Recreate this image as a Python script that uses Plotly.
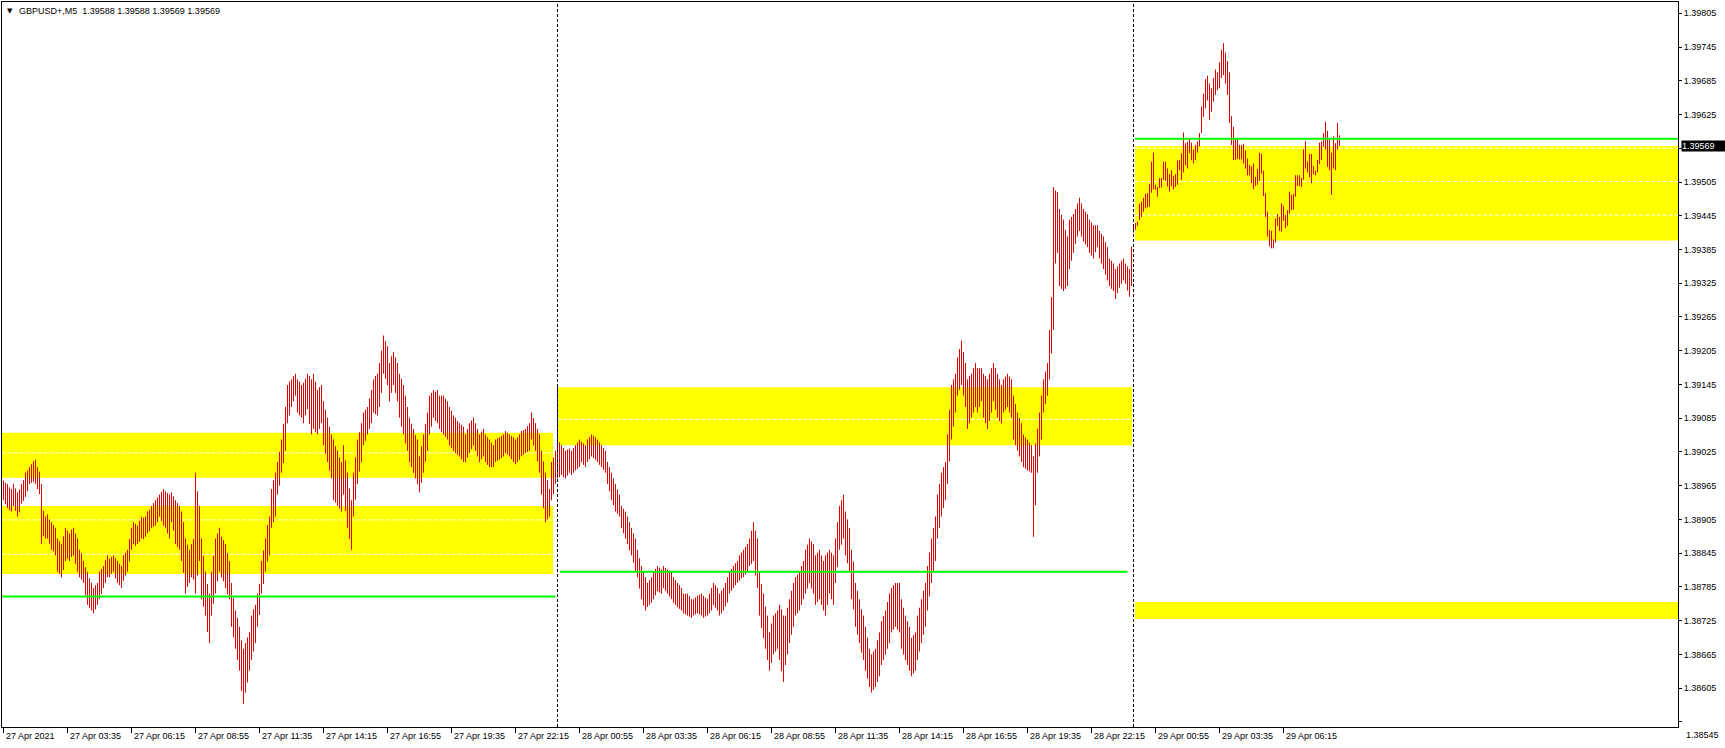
import plotly.graph_objects as go

# ---------------- data ----------------
chart_title = "GBPUSD+,M5  1.39588 1.39588 1.39569 1.39569"
BASE = 1.38
POINT = 0.00001

# M5 bars, 27 Apr 00:55 .. 29 Apr 08:35 ; highs / lows in points above BASE
day1_high = [974, 970, 968, 962, 959, 968, 960, 953, 958, 968,
             975, 988, 992, 998, 1003, 1008, 1011, 998, 990, 968,
             920, 910, 914, 905, 900, 895, 890, 871, 866, 861,
             875, 890, 885, 880, 887, 890, 880, 871, 851, 845,
             831, 820, 812, 800, 792, 783, 788, 792, 812, 817,
             822, 832, 841, 835, 838, 841, 836, 831, 826, 822,
             841, 846, 851, 870, 890, 900, 897, 894, 902, 910,
             908, 910, 919, 922, 929, 934, 939, 944, 949, 954,
             959, 955, 952, 949, 953, 946, 939, 934, 929, 919,
             900, 871, 860, 851, 861, 870, 988, 955, 929, 871,
             840, 812, 790, 773, 812, 840, 871, 880, 890, 874,
             868, 861, 845, 831, 792, 765, 743, 730, 714, 690,
             675, 685, 695, 704, 734, 745, 753, 773, 790, 831,
             850, 871, 895, 910, 959, 975, 988, 1007, 1025, 1047,
             1075, 1105, 1144, 1150, 1154, 1160, 1164, 1154, 1150, 1144,
             1148, 1155, 1164, 1160, 1154, 1164, 1150, 1135, 1140, 1144,
             1115, 1100, 1086, 1070, 1056, 1047, 1035, 1027, 1015, 1007,
             1037, 1010, 988, 960, 939, 988, 1015, 1047, 1060, 1076,
             1095, 1100, 1105, 1120, 1135, 1154, 1160, 1164, 1183, 1205,
             1232, 1222, 1213, 1183, 1195, 1203, 1193, 1183, 1164, 1155,
             1144, 1125, 1105, 1086, 1075, 1066, 1055, 1047, 1017, 1035,
             1056, 1075, 1095, 1125, 1130, 1135, 1132, 1135, 1125, 1125,
             1125, 1120, 1115, 1105, 1098, 1090, 1086, 1080, 1076, 1073,
             1070, 1056, 1066, 1076, 1081, 1086, 1076, 1066, 1056, 1061,
             1066, 1056, 1051, 1047, 1042, 1037, 1047, 1049, 1051, 1053,
             1056, 1062, 1059, 1056, 1053, 1051, 1047, 1051, 1056, 1062,
             1064, 1066, 1071, 1076, 1095, 1085, 1076, 1066, 1056, 1027,
             1008, 988, 975, 959, 1007, 1015, 1027]
day1_low = [939, 932, 925, 921, 919, 929, 920, 910, 918, 933,
            938, 945, 955, 968, 970, 972, 968, 959, 950, 861,
            875, 871, 871, 862, 851, 848, 841, 812, 808, 802,
            815, 831, 835, 831, 838, 841, 826, 812, 802, 798,
            792, 770, 753, 748, 743, 738, 745, 753, 763, 772,
            783, 792, 802, 802, 808, 812, 800, 792, 788, 783,
            796, 805, 812, 830, 851, 861, 858, 861, 865, 871,
            870, 874, 880, 884, 890, 892, 894, 900, 910, 902,
            894, 890, 880, 871, 900, 885, 861, 856, 851, 831,
            810, 773, 785, 792, 802, 798, 773, 805, 831, 763,
            750, 734, 705, 685, 734, 755, 773, 795, 812, 802,
            795, 783, 772, 763, 714, 695, 675, 655, 636, 600,
            577, 597, 615, 636, 655, 670, 685, 714, 735, 773,
            790, 812, 830, 841, 890, 900, 910, 949, 965, 988,
            1005, 1027, 1076, 1090, 1105, 1115, 1125, 1095, 1090, 1086,
            1076, 1090, 1101, 1075, 1056, 1066, 1060, 1056, 1066, 1076,
            1037, 1022, 1007, 992, 978, 939, 935, 929, 924, 919,
            949, 920, 890, 870, 851, 910, 940, 968, 990, 1007,
            1037, 1045, 1056, 1066, 1076, 1095, 1092, 1090, 1105, 1130,
            1164, 1155, 1144, 1115, 1130, 1144, 1130, 1115, 1086, 1070,
            1056, 1040, 1027, 1007, 998, 988, 978, 968, 953, 970,
            988, 1008, 1027, 1056, 1070, 1086, 1080, 1076, 1066, 1060,
            1056, 1052, 1047, 1037, 1032, 1027, 1023, 1020, 1017, 1012,
            1007, 1007, 1015, 1023, 1030, 1037, 1027, 1017, 1007, 1012,
            1017, 1007, 1002, 998, 998, 998, 1007, 1009, 1011, 1014,
            1017, 1023, 1020, 1017, 1012, 1007, 1003, 1007, 1011, 1017,
            1020, 1023, 1025, 1027, 1047, 1037, 1027, 1008, 988, 949,
            925, 900, 905, 910, 939, 950, 968]
day2_high = [1047, 1042, 1037, 1032, 1027, 1029, 1031, 1027, 1032, 1037,
             1042, 1047, 1043, 1040, 1037, 1047, 1051, 1056, 1054, 1051,
             1047, 1042, 1037, 1032, 1027, 1007, 998, 988, 978, 968,
             958, 949, 929, 924, 919, 910, 900, 890, 880, 871,
             851, 836, 822, 812, 802, 792, 797, 802, 812, 817,
             822, 819, 816, 822, 819, 816, 814, 812, 802, 797,
             792, 788, 783, 773, 773, 773, 768, 763, 763, 766,
             769, 771, 773, 769, 766, 763, 773, 783, 792, 788,
             783, 773, 778, 783, 792, 802, 812, 817, 822, 827,
             831, 841, 846, 851, 856, 861, 871, 885, 900, 885,
             871, 812, 790, 773, 750, 734, 704, 720, 734, 738,
             743, 753, 745, 734, 734, 748, 763, 778, 792, 802,
             807, 812, 822, 831, 851, 860, 871, 866, 861, 841,
             846, 851, 841, 831, 841, 846, 851, 846, 841, 871,
             900, 929, 939, 949, 919, 905, 890, 851, 830, 792,
             778, 763, 745, 734, 714, 695, 675, 665, 670, 675,
             690, 704, 724, 733, 743, 758, 773, 783, 788, 792,
             792, 792, 763, 748, 734, 724, 714, 694, 699, 704,
             734, 748, 763, 778, 792, 822, 846, 871, 890, 910,
             949, 968, 988, 998, 1007, 1056, 1100, 1144, 1154, 1164,
             1193, 1208, 1223, 1203, 1183, 1154, 1160, 1164, 1174, 1183,
             1174, 1174, 1174, 1164, 1160, 1154, 1164, 1174, 1183, 1174,
             1164, 1154, 1144, 1154, 1159, 1164, 1159, 1154, 1125, 1110,
             1095, 1085, 1076, 1056, 1051, 1047, 1042, 1037, 1017, 1040,
             1066, 1095, 1125, 1154, 1168, 1183, 1242, 1300, 1496, 1490,
             1487, 1457, 1447, 1438, 1420, 1408, 1438, 1443, 1448, 1457,
             1467, 1477, 1467, 1457, 1452, 1448, 1438, 1433, 1428, 1428,
             1428, 1418, 1413, 1408, 1398, 1389, 1369, 1365, 1360, 1350,
             1355, 1360, 1365, 1369, 1360, 1355, 1350, 1390]
day2_low = [978, 980, 984, 980, 978, 983, 988, 984, 988, 992,
            995, 998, 1007, 1002, 998, 1007, 1012, 1017, 1014, 1011,
            1007, 1002, 998, 993, 988, 968, 955, 939, 930, 919,
            915, 910, 890, 880, 871, 861, 850, 841, 828, 812,
            802, 782, 763, 752, 743, 749, 753, 757, 763, 770,
            777, 775, 773, 783, 778, 773, 768, 763, 757, 753,
            749, 746, 743, 738, 736, 734, 732, 730, 734, 736,
            738, 736, 734, 730, 732, 734, 738, 743, 753, 748,
            743, 734, 738, 743, 750, 757, 773, 778, 783, 788,
            792, 796, 800, 802, 807, 812, 822, 826, 831, 805,
            783, 734, 712, 694, 675, 655, 636, 650, 665, 670,
            675, 655, 635, 616, 646, 665, 685, 700, 714, 734,
            738, 743, 753, 763, 773, 782, 792, 782, 773, 753,
            758, 763, 753, 743, 734, 753, 773, 763, 753, 792,
            820, 851, 860, 871, 841, 827, 812, 763, 745, 714,
            700, 685, 668, 655, 636, 622, 607, 597, 602, 607,
            616, 626, 646, 655, 665, 675, 685, 704, 709, 714,
            709, 704, 675, 665, 655, 646, 636, 626, 631, 636,
            655, 670, 685, 700, 714, 743, 768, 792, 812, 831,
            871, 890, 910, 925, 939, 968, 1008, 1047, 1070, 1095,
            1125, 1135, 1144, 1125, 1105, 1066, 1076, 1086, 1095, 1105,
            1095, 1105, 1115, 1086, 1076, 1066, 1080, 1095, 1115, 1100,
            1086, 1080, 1076, 1095, 1100, 1105, 1095, 1086, 1047, 1037,
            1027, 1017, 1007, 998, 995, 992, 990, 988, 874, 930,
            988, 1017, 1047, 1095, 1110, 1125, 1154, 1200, 1242, 1360,
            1379, 1320, 1315, 1311, 1315, 1320, 1350, 1365, 1379, 1395,
            1408, 1418, 1408, 1399, 1394, 1389, 1379, 1374, 1369, 1380,
            1389, 1369, 1360, 1350, 1340, 1330, 1320, 1315, 1311, 1297,
            1307, 1317, 1324, 1330, 1324, 1312, 1301, 1320]
day3_high = [1430, 1432, 1434, 1466, 1470, 1477, 1484, 1485, 1501, 1541,
             1557, 1500, 1496, 1512, 1512, 1541, 1541, 1529, 1519, 1526,
             1516, 1519, 1543, 1544, 1556, 1593, 1574, 1577, 1583, 1575,
             1563, 1571, 1577, 1592, 1639, 1662, 1688, 1694, 1680, 1672,
             1690, 1705, 1700, 1718, 1740, 1752, 1735, 1720, 1700, 1622,
             1603, 1583, 1582, 1571, 1571, 1573, 1561, 1547, 1535, 1533,
             1538, 1514, 1528, 1557, 1555, 1525, 1485, 1452, 1420, 1418,
             1403, 1440, 1448, 1443, 1467, 1462, 1446, 1455, 1488, 1482,
             1484, 1517, 1517, 1517, 1512, 1563, 1578, 1541, 1555, 1555,
             1533, 1525, 1544, 1575, 1577, 1592, 1612, 1596, 1580, 1557,
             1586, 1574, 1610, 1588]
day3_low = [1415, 1420, 1427, 1437, 1443, 1452, 1458, 1460, 1461, 1486,
            1492, 1491, 1479, 1494, 1495, 1509, 1507, 1497, 1488, 1498,
            1492, 1496, 1500, 1526, 1509, 1522, 1535, 1529, 1556, 1544,
            1538, 1544, 1557, 1568, 1592, 1621, 1636, 1650, 1615, 1630,
            1648, 1660, 1668, 1672, 1690, 1695, 1680, 1660, 1610, 1571,
            1544, 1544, 1546, 1545, 1545, 1538, 1529, 1517, 1517, 1503,
            1492, 1498, 1500, 1507, 1520, 1480, 1443, 1408, 1391, 1387,
            1387, 1397, 1427, 1418, 1417, 1436, 1423, 1427, 1449, 1455,
            1456, 1479, 1498, 1498, 1496, 1509, 1529, 1522, 1513, 1503,
            1519, 1517, 1522, 1537, 1544, 1568, 1563, 1532, 1526, 1482,
            1529, 1526, 1563, 1569]
high_pts = day1_high + day2_high + day3_high
low_pts = day1_low + day2_low + day3_low

last_price = 1.39569

x_tick_bars = [0, 32, 64, 96, 128, 160, 192, 224, 256, 288, 320,
               352, 384, 416, 448, 480, 512, 544, 576, 608, 640]
x_tick_text = ["27 Apr 2021", "27 Apr 03:35", "27 Apr 06:15", "27 Apr 08:55",
               "27 Apr 11:35", "27 Apr 14:15", "27 Apr 16:55", "27 Apr 19:35",
               "27 Apr 22:15", "28 Apr 00:55", "28 Apr 03:35", "28 Apr 06:15",
               "28 Apr 08:55", "28 Apr 11:35", "28 Apr 14:15", "28 Apr 16:55",
               "28 Apr 19:35", "28 Apr 22:15", "29 Apr 00:55", "29 Apr 03:35",
               "29 Apr 06:15"]
y_tick_vals = [1.38545, 1.38605, 1.38665, 1.38725, 1.38785, 1.38845, 1.38905,
               1.38965, 1.39025, 1.39085, 1.39145, 1.39205, 1.39265, 1.39325,
               1.39385, 1.39445, 1.39505, 1.39565, 1.39625, 1.39685, 1.39745,
               1.39805]

day_separators = [277, 565]
# zones: (start bar, end bar, low price, high price)
zones = [(-1, 274.75, 1.38979, 1.39059),
         (-1, 274.75, 1.38808, 1.38929),
         (276.75, 564.25, 1.39037, 1.39140),
         (565.75, 840, 1.39401, 1.39569),
         (565.75, 840, 1.38728, 1.38758)]
# dashed levels inside zones: (start, end, price)
zone_levels = [(-1, 274.75, 1.39023), (-1, 274.75, 1.38904), (-1, 274.75, 1.38843),
               (276.75, 564.25, 1.39083),
               (565.75, 840, 1.39565), (565.75, 840, 1.39506), (565.75, 840, 1.39446)]
green_levels = [(-1, 276, 1.38768), (278.25, 562, 1.38812), (565.75, 840, 1.39582)]

X_RANGE = [-0.75, 837.25]
Y_RANGE = [1.385358, 1.398251]

# ---------------- figure ----------------
xs, ys = [], []
for i, (h, l) in enumerate(zip(high_pts, low_pts)):
    xs += [i, i, None]
    ys += [BASE + l * POINT, BASE + h * POINT, None]

fig = go.Figure()
fig.add_trace(go.Scatter(x=xs, y=ys, mode="lines",
                         line=dict(color="#e00000", width=1),
                         hoverinfo="skip", showlegend=False))

shapes = []
for x0, x1, lo, hi in zones:
    shapes.append(dict(type="rect", xref="x", yref="y", x0=x0, x1=x1, y0=lo, y1=hi,
                       fillcolor="#ffff00", line=dict(width=0), layer="below"))
for x0, x1, p in zone_levels:
    shapes.append(dict(type="line", xref="x", yref="y", x0=x0, x1=x1, y0=p, y1=p,
                       line=dict(color="white", width=1, dash="4px,2px"), layer="below"))
for x0, x1, p in green_levels:
    shapes.append(dict(type="line", xref="x", yref="y", x0=x0, x1=x1, y0=p, y1=p,
                       line=dict(color="#00ff00", width=2), layer="above"))
for s in day_separators:
    shapes.append(dict(type="line", xref="x", yref="paper", x0=s, x1=s, y0=0, y1=1,
                       line=dict(color="black", width=1, dash="3px,2px"), layer="above"))
# separator crossing the day-2 zone is drawn inverted (blue)
shapes.append(dict(type="line", xref="x", yref="y", x0=day_separators[0], x1=day_separators[0],
                   y0=zones[2][2], y1=zones[2][3],
                   line=dict(color="#0000ff", width=1, dash="3px,2px"), layer="above"))

annotations = []
for b, t in zip(x_tick_bars, x_tick_text):
    annotations.append(dict(x=b, xref="x", y=0, yref="paper", text=t, showarrow=False,
                            xanchor="left", yanchor="top", xshift=0, yshift=-2,
                            font=dict(family="Liberation Sans", size=9, color="black")))
annotations.append(dict(x=0, xref="paper", y=1, yref="paper", text="▼",
                        showarrow=False, xanchor="left", yanchor="top", xshift=3, yshift=-3,
                        font=dict(family="DejaVu Sans", size=7, color="black")))
annotations.append(dict(x=0, xref="paper", y=1, yref="paper", text=chart_title,
                        showarrow=False, xanchor="left", yanchor="top", xshift=15, yshift=-2,
                        font=dict(family="Liberation Sans", size=9, color="black")))
annotations.append(dict(x=1, xref="paper", y=last_price, yref="y", text="1.39569",
                        showarrow=False, xanchor="left", yanchor="middle", xshift=3,
                        bgcolor="black", borderpad=0, width=44, height=10, align="left",
                        font=dict(family="Liberation Sans", size=9, color="white")))
annotations.append(dict(x=1, xref="paper", y=0, yref="paper", text="1.38545",
                        showarrow=False, xanchor="left", yanchor="middle", xshift=6, yshift=-8,
                        font=dict(family="Liberation Sans", size=9, color="black")))

y_tick_text = ["%.5f" % v for v in y_tick_vals]
y_tick_text[0] = ""

fig.update_layout(
    width=1725, height=748,
    margin=dict(l=2, r=47, t=2, b=21),
    paper_bgcolor="white", plot_bgcolor="white",
    shapes=shapes, annotations=annotations,
    showlegend=False,
    xaxis=dict(range=X_RANGE, showgrid=False, zeroline=False,
               showline=True, mirror=True, linecolor="black", linewidth=1,
               tickmode="array", tickvals=x_tick_bars, showticklabels=False,
               ticks="outside", ticklen=5, tickcolor="black", tickwidth=1),
    yaxis=dict(range=Y_RANGE, side="right", showgrid=False, zeroline=False,
               showline=True, mirror=True, linecolor="black", linewidth=1,
               tickmode="array", tickvals=y_tick_vals, ticktext=y_tick_text,
               ticks="outside", ticklen=3, tickcolor="black", tickwidth=1,
               tickfont=dict(family="Liberation Sans", size=9, color="black")),
)

fig.write_html("out.html", config={"displayModeBar": False},
               post_script="document.body.style.margin='0px';document.body.style.overflow='hidden';")
